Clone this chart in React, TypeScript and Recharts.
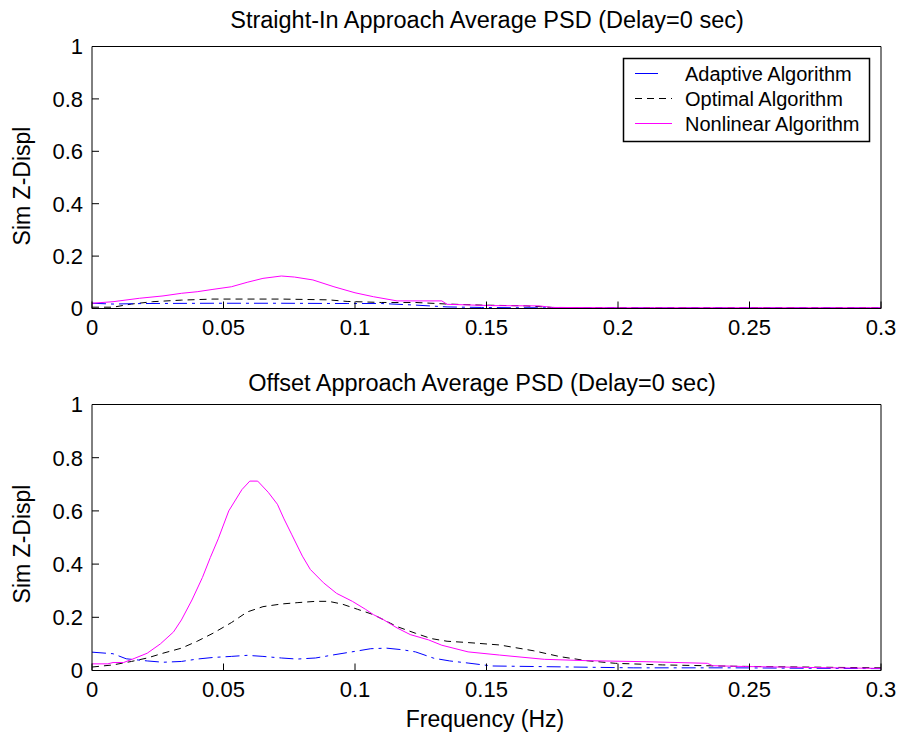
import React from 'react';
import { LineChart, Line, XAxis, YAxis } from 'recharts';

// x ticks / y ticks
const freqTicks = [0, 0.05, 0.1, 0.15, 0.2, 0.25, 0.3];
const zTicks = [0, 0.2, 0.4, 0.6, 0.8, 1];

// Straight-in approach
const topAdaptiveX = [0, 0.008, 0.02, 0.046, 0.072, 0.097, 0.11, 0.123, 0.135, 0.148, 0.16, 0.2, 0.25, 0.3];
const topAdaptiveY = [0.02, 0.017, 0.019, 0.02, 0.02, 0.019, 0.019, 0.013, 0.006, 0.004, 0.003, 0.002, 0.002, 0.002];

const topOptimalX = [0, 0.008, 0.015, 0.023, 0.034, 0.046, 0.072, 0.09, 0.097, 0.11, 0.123, 0.135, 0.148, 0.165, 0.175, 0.2, 0.25, 0.3];
const topOptimalY = [0.005, 0.005, 0.017, 0.026, 0.032, 0.036, 0.036, 0.033, 0.027, 0.023, 0.023, 0.017, 0.013, 0.01, 0.004, 0.003, 0.003, 0.003];

const topNonlinearX = [0, 0.008, 0.018, 0.027, 0.034, 0.04, 0.046, 0.053, 0.059, 0.065, 0.072, 0.077, 0.084, 0.092, 0.1, 0.107, 0.116, 0.133, 0.135, 0.152, 0.17, 0.175, 0.2, 0.25, 0.3];
const topNonlinearY = [0.02, 0.026, 0.039, 0.048, 0.058, 0.064, 0.073, 0.083, 0.1, 0.115, 0.124, 0.12, 0.109, 0.083, 0.06, 0.045, 0.029, 0.029, 0.016, 0.011, 0.01, 0.004, 0.003, 0.003, 0.003];

// Offset approach
const botAdaptiveX = [0, 0.008, 0.013, 0.021, 0.027, 0.034, 0.04, 0.046, 0.053, 0.059, 0.065, 0.072, 0.078, 0.085, 0.092, 0.1, 0.106, 0.112, 0.118, 0.123, 0.13, 0.136, 0.143, 0.152, 0.168, 0.206, 0.244, 0.3];
const botAdaptiveY = [0.069, 0.063, 0.044, 0.036, 0.031, 0.034, 0.043, 0.049, 0.053, 0.057, 0.053, 0.047, 0.043, 0.047, 0.059, 0.072, 0.082, 0.084, 0.078, 0.07, 0.046, 0.036, 0.028, 0.017, 0.015, 0.01, 0.01, 0.007];

const botOptimalX = [0, 0.008, 0.015, 0.021, 0.027, 0.034, 0.04, 0.046, 0.053, 0.059, 0.065, 0.072, 0.078, 0.085, 0.09, 0.095, 0.101, 0.107, 0.116, 0.123, 0.129, 0.135, 0.143, 0.155, 0.168, 0.178, 0.188, 0.199, 0.217, 0.244, 0.27, 0.3];
const botOptimalY = [0.013, 0.021, 0.034, 0.047, 0.065, 0.084, 0.11, 0.14, 0.18, 0.22, 0.24, 0.25, 0.255, 0.26, 0.26, 0.25, 0.23, 0.21, 0.165, 0.14, 0.12, 0.11, 0.105, 0.096, 0.074, 0.052, 0.037, 0.027, 0.021, 0.016, 0.013, 0.01];

const botNonlinearX = [0, 0.006, 0.008, 0.012, 0.016, 0.021, 0.026, 0.031, 0.034, 0.038, 0.042, 0.045, 0.048, 0.052, 0.057, 0.06, 0.063, 0.067, 0.0705, 0.073, 0.076, 0.08, 0.083, 0.088, 0.093, 0.099, 0.104, 0.107, 0.111, 0.116, 0.121, 0.128, 0.133, 0.143, 0.155, 0.172, 0.188, 0.211, 0.234, 0.236, 0.248, 0.282, 0.3];
const botNonlinearY = [0.025, 0.025, 0.03, 0.03, 0.045, 0.065, 0.1, 0.145, 0.19, 0.265, 0.35, 0.425, 0.495, 0.6, 0.68, 0.712, 0.712, 0.67, 0.625, 0.57, 0.51, 0.43, 0.38, 0.33, 0.29, 0.26, 0.23, 0.21, 0.19, 0.16, 0.135, 0.115, 0.095, 0.07, 0.058, 0.042, 0.037, 0.033, 0.027, 0.018, 0.015, 0.01, 0.008];

const toPoints = (xs: number[], ys: number[]) => xs.map((x, i) => ({ x, y: ys[i] }));

const FONT = '"Liberation Sans", Arial, sans-serif';
const BLUE_DASH = '14 5 3 5';
const BLACK_DASH = '7 5';

const axisCommon = {
    axisLine: { stroke: '#000' },
    tickLine: { stroke: '#000' },
    tickSize: -7,
    interval: 0 as const,
};
const blank = () => '';

type Series = { x: number[]; y: number[] };

const Panel = ({ height, margin, adaptive, optimal, nonlinear }: {
    height: number;
    margin: { top: number; right: number; bottom: number; left: number };
    adaptive: Series; optimal: Series; nonlinear: Series;
}) => (
    <LineChart width={904} height={height} margin={margin}>
        <XAxis xAxisId="b" type="number" dataKey="x" domain={[0, 0.3]} ticks={freqTicks} orientation="bottom"
            height={30} tickMargin={18} tick={{ fill: '#000', fontSize: 22, fontFamily: FONT }} {...axisCommon} />
        <XAxis xAxisId="t" type="number" dataKey="x" domain={[0, 0.3]} ticks={freqTicks} orientation="top"
            height={1} tickFormatter={blank} {...axisCommon} />
        <YAxis yAxisId="l" type="number" domain={[0, 1]} ticks={zTicks} width={40} tickMargin={16}
            tick={{ fill: '#000', fontSize: 22, fontFamily: FONT }} {...axisCommon} />
        <YAxis yAxisId="r" type="number" domain={[0, 1]} ticks={zTicks} orientation="right" width={1}
            tickFormatter={blank} {...axisCommon} />
        <Line xAxisId="b" yAxisId="l" data={toPoints(optimal.x, optimal.y)} dataKey="y" type="linear"
            stroke="#000" strokeWidth={1} strokeDasharray={BLACK_DASH} dot={false} isAnimationActive={false} />
        <Line xAxisId="b" yAxisId="l" data={toPoints(adaptive.x, adaptive.y)} dataKey="y" type="linear"
            stroke="#0000ff" strokeWidth={1} strokeDasharray={BLUE_DASH} dot={false} isAnimationActive={false} />
        <Line xAxisId="b" yAxisId="l" data={toPoints(nonlinear.x, nonlinear.y)} dataKey="y" type="linear"
            stroke="#ff00ff" strokeWidth={1} dot={false} isAnimationActive={false} />
    </LineChart>
);

const legendRows = [
    { name: 'Adaptive Algorithm', color: '#0000ff', dash: undefined, x2: 658 },
    { name: 'Optimal Algorithm', color: '#000', dash: BLACK_DASH, x2: 672 },
    { name: 'Nonlinear Algorithm', color: '#ff00ff', dash: undefined, x2: 672 },
];

export default function App() {
    return (
        <div style={{ position: 'absolute', left: 0, top: 0, width: 904, height: 733, background: '#fff', fontFamily: FONT }}>
            <div style={{ position: 'absolute', left: 0, top: 0 }}>
                <Panel height={360} margin={{ top: 45.5, right: 22, bottom: 21.5, left: 52 }}
                    adaptive={{ x: topAdaptiveX, y: topAdaptiveY }}
                    optimal={{ x: topOptimalX, y: topOptimalY }}
                    nonlinear={{ x: topNonlinearX, y: topNonlinearY }} />
            </div>
            <div style={{ position: 'absolute', left: 0, top: 360 }}>
                <Panel height={373} margin={{ top: 43.5, right: 22, bottom: 32.5, left: 52 }}
                    adaptive={{ x: botAdaptiveX, y: botAdaptiveY }}
                    optimal={{ x: botOptimalX, y: botOptimalY }}
                    nonlinear={{ x: botNonlinearX, y: botNonlinearY }} />
            </div>
            <svg width={904} height={733} style={{ position: 'absolute', left: 0, top: 0, pointerEvents: 'none' }}
                fontFamily={FONT}>
                <text x={487} y={28} fontSize={23.5} textAnchor="middle" fill="#000">Straight-In Approach Average PSD (Delay=0 sec)</text>
                <text x={482} y={391} fontSize={23.5} textAnchor="middle" fill="#000">Offset Approach Average PSD (Delay=0 sec)</text>
                <text transform="translate(30,186) rotate(-90)" fontSize={23} textAnchor="middle" fill="#000">Sim Z-Displ</text>
                <text transform="translate(30,544) rotate(-90)" fontSize={23} textAnchor="middle" fill="#000">Sim Z-Displ</text>
                <text x={485} y={727} fontSize={23} textAnchor="middle" fill="#000">Frequency (Hz)</text>
                <rect x={623.5} y={58.5} width={246} height={83} fill="#fff" stroke="#000" strokeWidth={1.5} />
                {legendRows.map((r, i) => (
                    <g key={r.name}>
                        <line x1={635} x2={r.x2} y1={73.5 + i * 25} y2={73.5 + i * 25} stroke={r.color}
                            strokeWidth={1} strokeDasharray={r.dash} />
                        <text x={685} y={80.5 + i * 25} fontSize={20} fill="#000">{r.name}</text>
                    </g>
                ))}
            </svg>
        </div>
    );
}
